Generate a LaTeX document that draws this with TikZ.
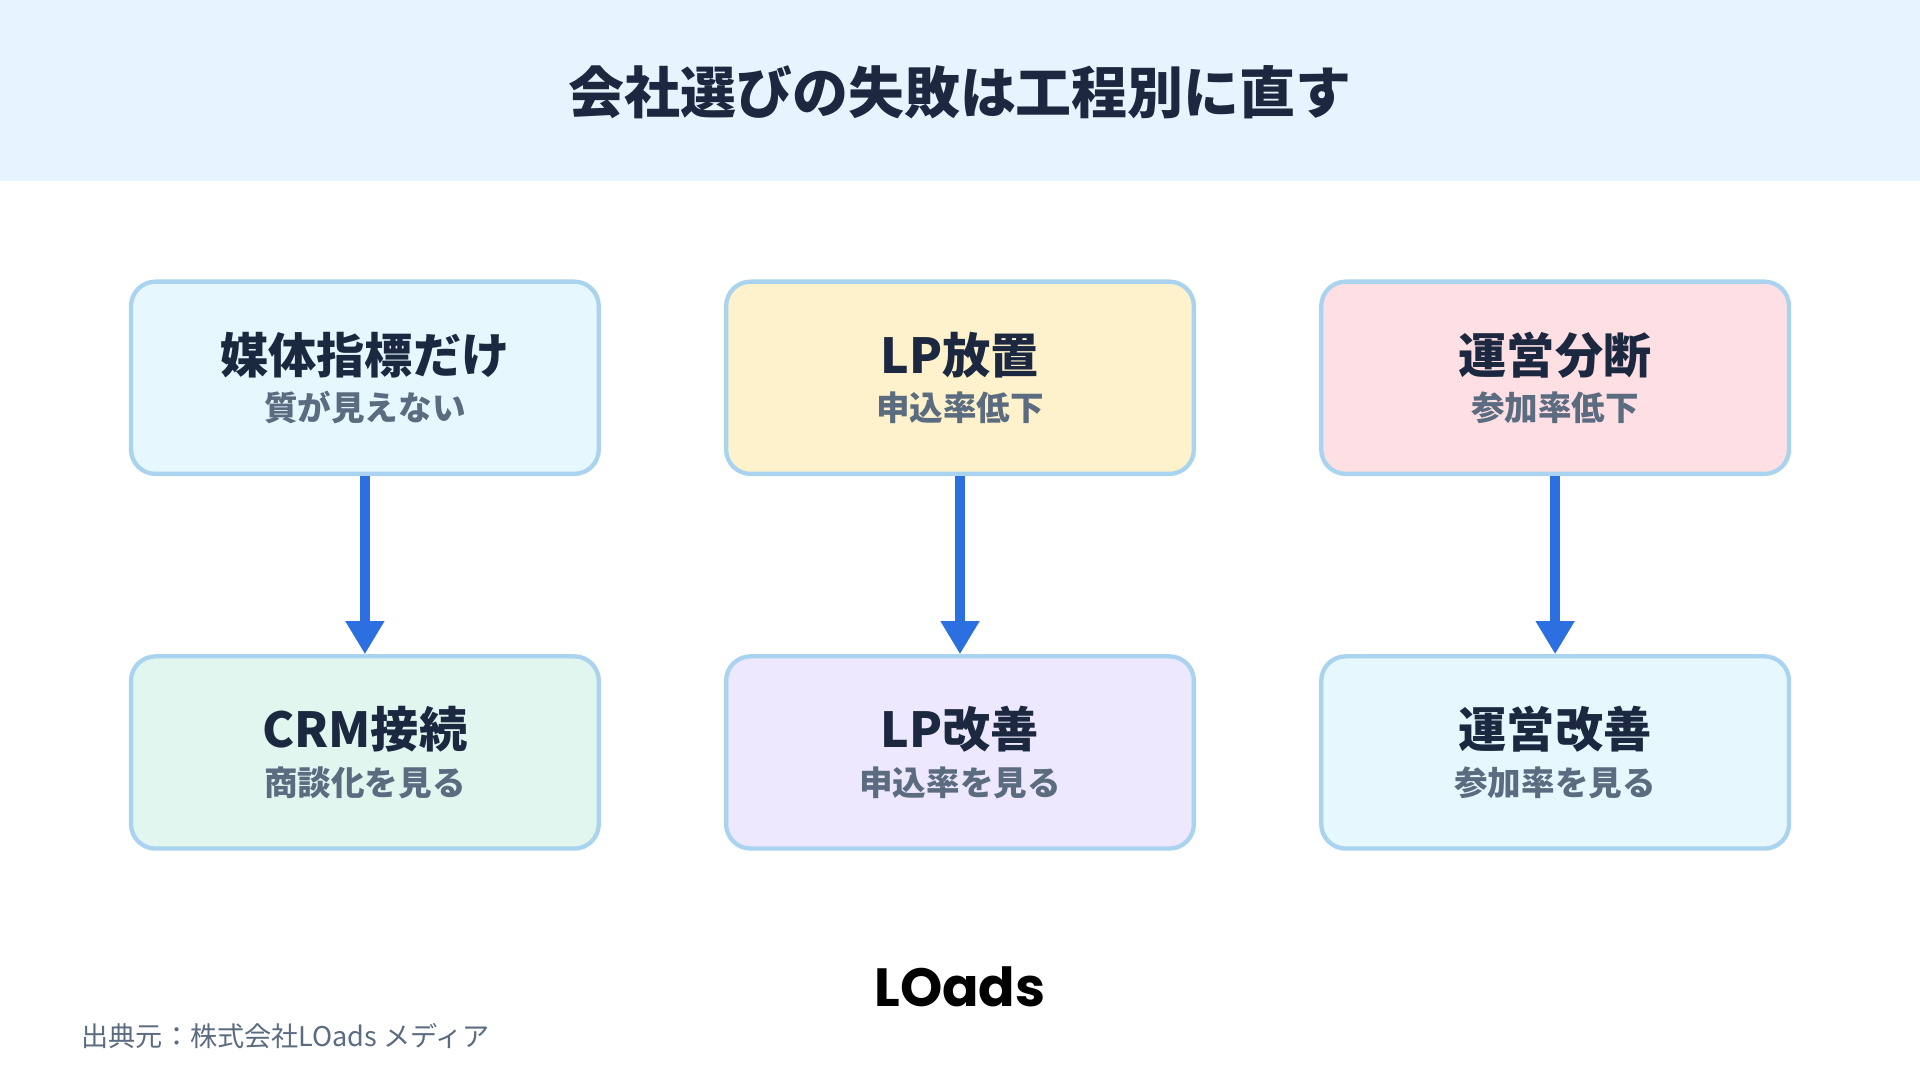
\documentclass[tikz,border=0pt]{standalone}
\usepackage{fontspec}
\setmainfont{Noto Sans CJK JP}
\newfontfamily\logofont{Poppins}
\usetikzlibrary{positioning,arrows.meta}
\definecolor{headbg}{HTML}{E7F4FD}
\definecolor{navy}{HTML}{1B2840}
\definecolor{subgray}{HTML}{5B6B80}
\definecolor{edgeblue}{HTML}{A9D3EE}
\definecolor{arrowblue}{HTML}{2B6FE0}
\definecolor{fillA}{HTML}{E6F7FD}
\definecolor{fillB}{HTML}{FEF2CC}
\definecolor{fillC}{HTML}{FEE0E4}
\definecolor{fillD}{HTML}{E1F6EE}
\definecolor{fillE}{HTML}{EDE8FD}
\tikzset{
  step/.style={draw=edgeblue, line width=1pt, rounded corners=0.2cm,
    minimum width=3.82cm, minimum height=1.57cm, fill=#1, align=center},
  flow/.style={arrowblue, line width=2.4pt, -{Triangle[length=0.27cm,width=0.3cm]}}
}
\newcommand{\steptext}[2]{{\fontsize{11.2}{13}\bfseries\color{navy}#1}\\[-1pt]{\fontsize{7.8}{9}\bfseries\color{subgray}#2}}

\begin{document}
\begin{tikzpicture}[x=1cm,y=1cm]
  \useasboundingbox (0,0) rectangle (15.68,8.82);
  \fill[white] (0,0) rectangle (15.68,8.82);
  \fill[headbg] (0,7.34) rectangle (15.68,8.82);
  \node[font=\fontsize{13}{15}\bfseries, text=navy] (title) at (7.84,8.07) {会社選びの失敗は工程別に直す};

  % upper row
  \node[step=fillA] (media) at (2.98,5.735) {\steptext{媒体指標だけ}{質が見えない}};
  \node[step=fillB] (lp) at (7.84,5.735) {\steptext{LP放置}{申込率低下}};
  \node[step=fillC] (ops) at (12.70,5.735) {\steptext{運営分断}{参加率低下}};

  % lower row
  \node[step=fillD] (crm) at (2.98,2.675) {\steptext{CRM接続}{商談化を見る}};
  \node[step=fillE] (lpfix) at (7.84,2.675) {\steptext{LP改善}{申込率を見る}};
  \node[step=fillA] (opsfix) at (12.70,2.675) {\steptext{運営改善}{参加率を見る}};

  \draw[flow] (media) -- (crm);
  \draw[flow] (lp) -- (lpfix);
  \draw[flow] (ops) -- (opsfix);

  \node[font=\logofont\fontsize{12.5}{14}\bfseries] (logo) at (7.84,0.76) {LOads};
  \node[anchor=west, font=\fontsize{6.3}{7.5}\selectfont, text=subgray, inner sep=0pt] (source) at (0.66,0.36) {出典元：株式会社LOads メディア};
\end{tikzpicture}
\end{document}
